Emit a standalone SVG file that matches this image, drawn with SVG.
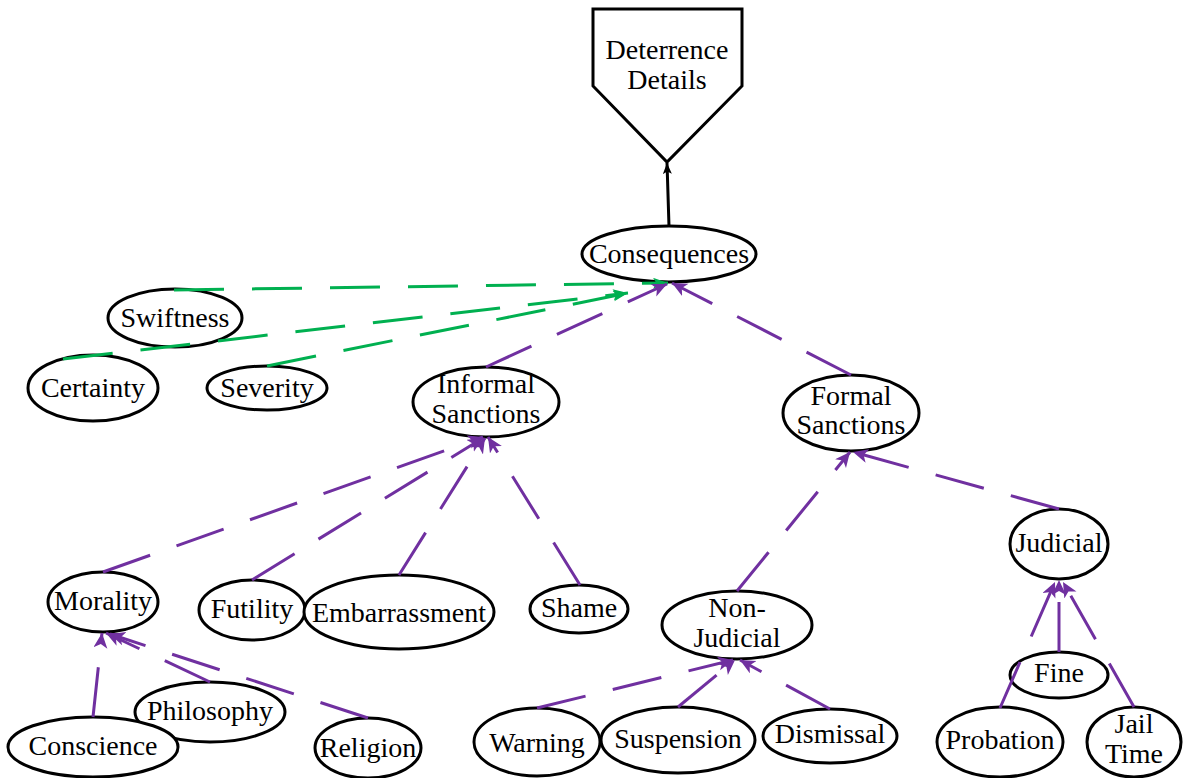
<svg xmlns="http://www.w3.org/2000/svg" width="1186" height="778" viewBox="0 0 1186 778">
<style>
.n{fill:#fff;stroke:#000;stroke-width:3}
.g{fill:none;stroke:#00b050;stroke-width:3;stroke-dasharray:50 28;marker-end:url(#ag)}
.p{fill:none;stroke:#7030a0;stroke-width:3;stroke-dasharray:50 28;marker-end:url(#ap)}
.k{fill:none;stroke:#000;stroke-width:3;marker-end:url(#ak)}
</style>
<defs>
<marker id="ap" markerWidth="18" markerHeight="16" refX="15" refY="7" orient="auto" markerUnits="userSpaceOnUse"><path d="M0,0 L15,7 L0,14 L4,7 z" fill="#7030a0"/></marker>
<marker id="ag" markerWidth="18" markerHeight="14" refX="15" refY="5.5" orient="auto" markerUnits="userSpaceOnUse"><path d="M0,0 L15,5.5 L0,11 L3.5,5.5 z" fill="#00b050"/></marker>
<marker id="ak" markerWidth="14" markerHeight="12" refX="11" refY="4.5" orient="auto" markerUnits="userSpaceOnUse"><path d="M0,0 L11,4.5 L0,9 L2.5,4.5 z" fill="#000"/></marker>
</defs>
<g id="nodes" font-family="Liberation Serif" font-size="28" text-anchor="middle" fill="#000">
<g id="deterrence"><polygon class="n" points="593,9 742,9 742,86 667,162 593,86"/><text x="667" y="59">Deterrence</text><text x="667" y="89">Details</text></g>
<g id="consequences"><ellipse class="n" cx="669" cy="254" rx="87" ry="28"/><text x="669" y="263">Consequences</text></g>
<g id="swiftness"><ellipse class="n" cx="175" cy="318" rx="67" ry="29"/><text x="175" y="327">Swiftness</text></g>
<g id="certainty"><ellipse class="n" cx="93" cy="388" rx="65" ry="33"/><text x="93" y="397">Certainty</text></g>
<g id="severity"><ellipse class="n" cx="267" cy="388" rx="60" ry="22"/><text x="267" y="397">Severity</text></g>
<g id="informal"><ellipse class="n" cx="486" cy="402" rx="73" ry="35"/><text x="486" y="393">Informal</text><text x="486" y="423">Sanctions</text></g>
<g id="formal"><ellipse class="n" cx="851" cy="413" rx="68" ry="38"/><text x="851" y="405">Formal</text><text x="851" y="434">Sanctions</text></g>
<g id="morality"><ellipse class="n" cx="103" cy="602" rx="55" ry="30"/><text x="103" y="610">Morality</text></g>
<g id="futility"><ellipse class="n" cx="252" cy="610" rx="53" ry="30"/><text x="252" y="618">Futility</text></g>
<g id="embarrassment"><ellipse class="n" cx="399" cy="612" rx="95" ry="37"/><text x="399" y="622">Embarrassment</text></g>
<g id="shame"><ellipse class="n" cx="579" cy="609" rx="49" ry="24"/><text x="579" y="617">Shame</text></g>
<g id="nonjudicial"><ellipse class="n" cx="737" cy="625" rx="75" ry="34"/><text x="737" y="617">Non-</text><text x="737" y="647">Judicial</text></g>
<g id="judicial"><ellipse class="n" cx="1059" cy="544" rx="49" ry="35"/><text x="1059" y="552">Judicial</text></g>
<g id="fine"><ellipse class="n" cx="1059" cy="675" rx="49" ry="23"/><text x="1059" y="682">Fine</text></g>
<g id="probation"><ellipse class="n" cx="1000" cy="742" rx="63" ry="35"/><text x="1000" y="749">Probation</text></g>
<g id="jailtime"><ellipse class="n" cx="1134" cy="742" rx="47" ry="35"/><text x="1134" y="733">Jail</text><text x="1134" y="763">Time</text></g>
<g id="philosophy"><ellipse class="n" cx="210" cy="712" rx="75" ry="30"/><text x="210" y="720">Philosophy</text></g>
<g id="conscience"><ellipse class="n" cx="93" cy="747" rx="85" ry="30"/><text x="93" y="755">Conscience</text></g>
<g id="religion"><ellipse class="n" cx="368" cy="748" rx="53" ry="30"/><text x="368" y="757">Religion</text></g>
<g id="warning"><ellipse class="n" cx="537" cy="742" rx="63" ry="34"/><text x="537" y="752">Warning</text></g>
<g id="suspension"><ellipse class="n" cx="678" cy="740" rx="77" ry="33"/><text x="678" y="748">Suspension</text></g>
<g id="dismissal"><ellipse class="n" cx="830" cy="736" rx="67" ry="27"/><text x="830" y="743">Dismissal</text></g>
</g>
<g id="connectors">
<path class="k" d="M669,226 L667,163"/>
<path class="g" d="M174,290 L668,283"/>
<path class="g" d="M63,359 L628,293"/>
<path class="g" d="M267,366 L628,293"/>
<path class="p" d="M486,367 L667,284"/>
<path class="p" d="M851,375 L672,283"/>
<path class="p" d="M103,572 L483,437"/>
<path class="p" d="M252,580 L483,438"/>
<path class="p" d="M399,575 L485,438"/>
<path class="p" d="M580,585 L488,437"/>
<path class="p" d="M737,591 L850,452"/>
<path class="p" d="M1059,509 L853,452"/>
<path class="p" d="M93,717 L102,633"/>
<path class="p" d="M210,682 L106,633"/>
<path class="p" d="M368,718 L110,634"/>
<path class="p" d="M537,708 L733,660"/>
<path class="p" d="M678,707 L735,660"/>
<path class="p" d="M830,709 L740,660"/>
<path class="p" d="M1059,652 L1059,580"/>
<path class="p" d="M1000,708 L1055,582"/>
<path class="p" d="M1134,707 L1063,582"/>
</g>
</svg>
